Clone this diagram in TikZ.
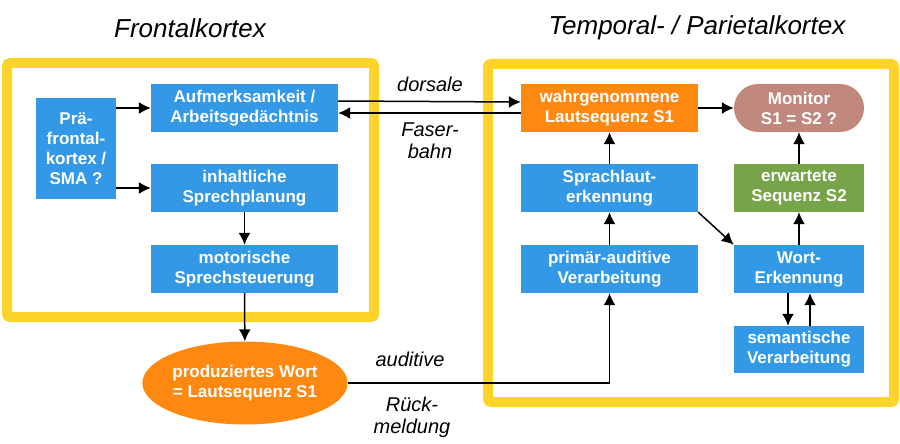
\documentclass[tikz,border=0pt]{standalone}
\usepackage{fontspec}
\setmainfont{Liberation Sans}
\usetikzlibrary{arrows.meta,shapes.geometric,shapes.misc}

\definecolor{boxblau}{RGB}{51,153,230}
\definecolor{lautorange}{RGB}{255,136,17}
\definecolor{monbraun}{RGB}{192,136,124}
\definecolor{erwgruen}{RGB}{119,164,72}
\definecolor{rahmengelb}{RGB}{255,212,42}

\begin{document}
\begin{tikzpicture}[x=1pt,y=-1pt,
    box/.style={fill=boxblau,text=white,font=\fontsize{17}{20}\selectfont\bfseries,align=center,inner sep=0pt,minimum height=48pt},
    arr/.style={-{Latex[length=12pt,width=12pt]},line width=1.5pt},
    frame/.style={draw=rahmengelb,line width=10pt,rounded corners=3pt},
    titel/.style={font=\fontsize{26}{30}\selectfont\itshape},
    bahn/.style={font=\fontsize{20}{22}\selectfont\itshape,align=center}]
      \useasboundingbox (0,0) rectangle (900,444);

      % Rahmen und Titel
      \draw[frame] (7,63) rectangle (374,317);
      \draw[frame] (488,64) rectangle (894,402);
      \node[titel] (tfront) at (190,28) {Frontalkortex};
      \node[titel] (ttemp) at (697,28) {Temporal- / Parietalkortex};

      % Frontalkortex
      \node[box,minimum width=80pt,minimum height=101pt] (pfc) at (76,148.5) {Prä-\\frontal-\\kortex /\\SMA ?};
      \node[box,minimum width=187pt] (aufm) at (244.5,108) {Aufmerksamkeit /\\Arbeitsgedächtnis};
      \node[box,minimum width=187pt] (inhalt) at (244.5,188) {inhaltliche\\Sprechplanung};
      \node[box,minimum width=187pt] (motor) at (244.5,269) {motorische\\Sprechsteuerung};

      \node[ellipse,fill=lautorange,text=white,font=\fontsize{17}{20}\selectfont\bfseries,align=center,
            minimum width=204pt,minimum height=83pt,inner sep=0pt] (wort1) at (245,383) {produziertes Wort\\= Lautsequenz S1};

      % Temporal- / Parietalkortex
      \node[box,fill=lautorange,minimum width=177pt] (wahrg) at (609.5,108) {wahrgenommene\\Lautsequenz S1};
      \node[box,fill=monbraun,rounded rectangle,minimum width=130pt] (monitor) at (799,108) {Monitor\\S1 = S2 ?};
      \node[box,minimum width=177pt] (sprach) at (609.5,188) {Sprachlaut-\\erkennung};
      \node[box,fill=erwgruen,minimum width=130pt] (erw) at (799,188) {erwartete\\Sequenz S2};
      \node[box,minimum width=177pt] (primaer) at (609.5,269) {primär-auditive\\Verarbeitung};
      \node[box,minimum width=130pt] (worterk) at (799,269) {Wort-\\Erkennung};
      \node[box,minimum width=130pt,minimum height=47pt] (sem) at (799,349.5) {semantische\\Verarbeitung};

      % Beschriftungen
      \node[bahn] (ldors) at (430,84) {dorsale};
      \node[bahn] (lfaser) at (430,141) {Faser-\\bahn};
      \node[bahn] (laud) at (410,359) {auditive};
      \node[bahn] (lrueck) at (412,417) {Rück-\\meldung};

      % Pfeile
      \draw[arr] (pfc.east |- aufm.west) -- (aufm.west);
      \draw[arr] (pfc.east |- inhalt.west) -- (inhalt.west);
      \draw[arr] (inhalt) -- (motor);
      \draw[arr] (motor) -- (wort1);
      \draw[arr] ([yshift=7pt]aufm.east) -- ([yshift=6pt]wahrg.west);
      \draw[arr] ([yshift=-5pt]wahrg.west) -- ([yshift=-5pt]aufm.east);
      \draw[arr] (wahrg) -- (monitor);
      \draw[arr] (sprach) -- (wahrg);
      \draw[arr] (primaer) -- (sprach);
      \draw[arr] (erw) -- (monitor);
      \draw[arr] (worterk) -- (erw);
      \draw[arr] (sprach.south east) -- (worterk.north west);
      \draw[arr] ([xshift=-11pt]worterk.south) -- ([xshift=-11pt]sem.north);
      \draw[arr] ([xshift=11pt]sem.north) -- ([xshift=11pt]worterk.south);
      \draw[arr] (wort1.east) -| (primaer.south);
\end{tikzpicture}
\end{document}
